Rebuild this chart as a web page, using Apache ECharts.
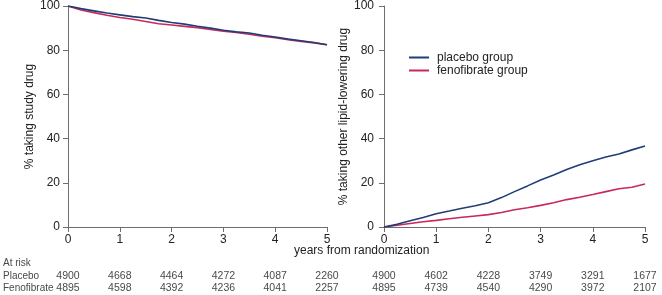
<!DOCTYPE html>
<html>
<head>
<meta charset="utf-8">
<script src="https://cdn.jsdelivr.net/npm/echarts@6/dist/echarts.min.js"></script>
<style>
  html, body { margin: 0; padding: 0; background: #fff; }
  #chart { width: 662px; height: 295px; }
</style>
</head>
<body>
<div id="chart"></div>
<script>
// years since randomization, sampled every quarter
var years = [0, 0.25, 0.5, 0.75, 1, 1.25, 1.5, 1.75, 2, 2.25, 2.5, 2.75, 3, 3.25, 3.5, 3.75, 4, 4.25, 4.5, 4.75, 5];

// left panel: % taking study drug
var studyPlacebo = [100, 98.8, 97.8, 96.8, 96, 95.2, 94.6, 93.5, 92.5, 91.8, 90.8, 90, 89, 88.3, 87.8, 86.8, 86, 85, 84.3, 83.5, 82.5];
var studyFeno    = [100, 98.2, 97, 95.8, 94.8, 94, 93, 92, 91.4, 90.8, 90.2, 89.4, 88.6, 88, 87.2, 86.3, 85.6, 84.8, 84, 83.3, 82.5];

// right panel: % taking other lipid-lowering drug
var otherPlacebo = [0, 1.2, 2.8, 4.3, 6, 7.2, 8.5, 9.6, 11, 13.3, 16, 18.6, 21.3, 23.5, 26, 28.2, 30, 31.7, 33, 34.9, 36.7];
var otherFeno    = [0, 0.8, 1.6, 2.4, 3, 3.7, 4.4, 5, 5.6, 6.6, 7.8, 8.7, 9.8, 11, 12.4, 13.5, 14.7, 16, 17.3, 18, 19.5];

// numbers at risk at years 0..5
var riskStudyPlacebo = [4900, 4668, 4464, 4272, 4087, 2260];
var riskStudyFeno    = [4895, 4598, 4392, 4236, 4041, 2257];
var riskOtherPlacebo = [4900, 4602, 4228, 3749, 3291, 1677];
var riskOtherFeno    = [4895, 4739, 4540, 4290, 3972, 2107];

var rowLabels = ['At risk', 'Placebo', 'Fenofibrate'];

var FONT = '"Liberation Sans", Arial, sans-serif';
var BLUE = '#1f3d78';
var RED = '#c8285c';
var AXIS = '#6e6e6e';

function pairs(xs, ys) {
    return xs.map(function (x, i) { return [x, ys[i]]; });
}

function mainX(grid) {
    return {
        type: 'value', gridIndex: grid, min: 0, max: 5, interval: 1,
        axisLine: { lineStyle: { color: AXIS } },
        axisTick: { length: 5, lineStyle: { color: AXIS } },
        axisLabel: { margin: 7, fontFamily: FONT, fontSize: 12, color: '#222' },
        splitLine: { show: false }
    };
}

// extra x axes that only carry the numbers at risk
function riskX(grid, values, offset) {
    return {
        type: 'value', gridIndex: grid, min: 0, max: 5, interval: 1,
        position: 'bottom', offset: offset,
        axisLine: { show: false }, axisTick: { show: false }, splitLine: { show: false },
        axisLabel: {
            margin: 5, fontFamily: FONT, fontSize: 10.5, color: '#4a4a4a',
            formatter: function (v) { return values[Math.round(v)]; }
        }
    };
}

function yAx(grid, name, gap, labelMargin) {
    return {
        type: 'value', gridIndex: grid, min: 0, max: 100, interval: 20,
        name: name, nameLocation: 'middle', nameGap: gap,
        nameTextStyle: { fontFamily: FONT, fontSize: 12, color: '#222' },
        axisLine: { show: true, lineStyle: { color: AXIS } },
        axisTick: { show: true, length: 5, lineStyle: { color: AXIS } },
        axisLabel: { margin: labelMargin, fontFamily: FONT, fontSize: 12, color: '#222' },
        splitLine: { show: false }
    };
}

function line(name, color, xi, yi, data, z) {
    return {
        name: name, type: 'line', xAxisIndex: xi, yAxisIndex: yi,
        data: data, showSymbol: false, symbol: 'none', smooth: false, z: z,
        lineStyle: { color: color, width: 1.6 }, itemStyle: { color: color },
        emphasis: { disabled: true }
    };
}

var chart = echarts.init(document.getElementById('chart'), null, { renderer: 'canvas' });

var option = {
    backgroundColor: '#fff',
    animation: false,
    grid: [
        { left: 68, top: 4, width: 259, height: 223 },
        { left: 384, top: 4, width: 261, height: 223 }
    ],
    xAxis: [
        mainX(0), riskX(0, riskStudyPlacebo, 39), riskX(0, riskStudyFeno, 51),
        mainX(1), riskX(1, riskOtherPlacebo, 39), riskX(1, riskOtherFeno, 51)
    ],
    yAxis: [
        yAx(0, '% taking study drug', 26, 8),
        yAx(1, '% taking other lipid-lowering drug', 26, 10)
    ],
    legend: {
        orient: 'vertical', left: 409, top: 51, padding: 0,
        itemWidth: 20, itemHeight: 2, itemGap: 0, icon: 'rect',
        textStyle: { fontFamily: FONT, fontSize: 12, color: '#222', lineHeight: 13, padding: [0, 0, 0, 3] },
        data: ['placebo group', 'fenofibrate group']
    },
    series: [
        line('fenofibrate group', RED, 0, 0, pairs(years, studyFeno), 2),
        line('placebo group', BLUE, 0, 0, pairs(years, studyPlacebo), 3),
        line('fenofibrate group', RED, 3, 1, pairs(years, otherFeno), 2),
        line('placebo group', BLUE, 3, 1, pairs(years, otherPlacebo), 3)
    ],
    graphic: [
        { type: 'text', left: 294, top: 245, style: { text: 'years from randomization', font: '12px ' + FONT, fill: '#222' } },
        { type: 'text', left: 3, top: 258, style: { text: rowLabels[0], font: '10px ' + FONT, fill: '#4a4a4a' } },
        { type: 'text', left: 3, top: 271, style: { text: rowLabels[1], font: '10px ' + FONT, fill: '#4a4a4a' } },
        { type: 'text', left: 3, top: 283, style: { text: rowLabels[2], font: '10px ' + FONT, fill: '#4a4a4a' } }
    ]
};

chart.setOption(option);
</script>
</body>
</html>
